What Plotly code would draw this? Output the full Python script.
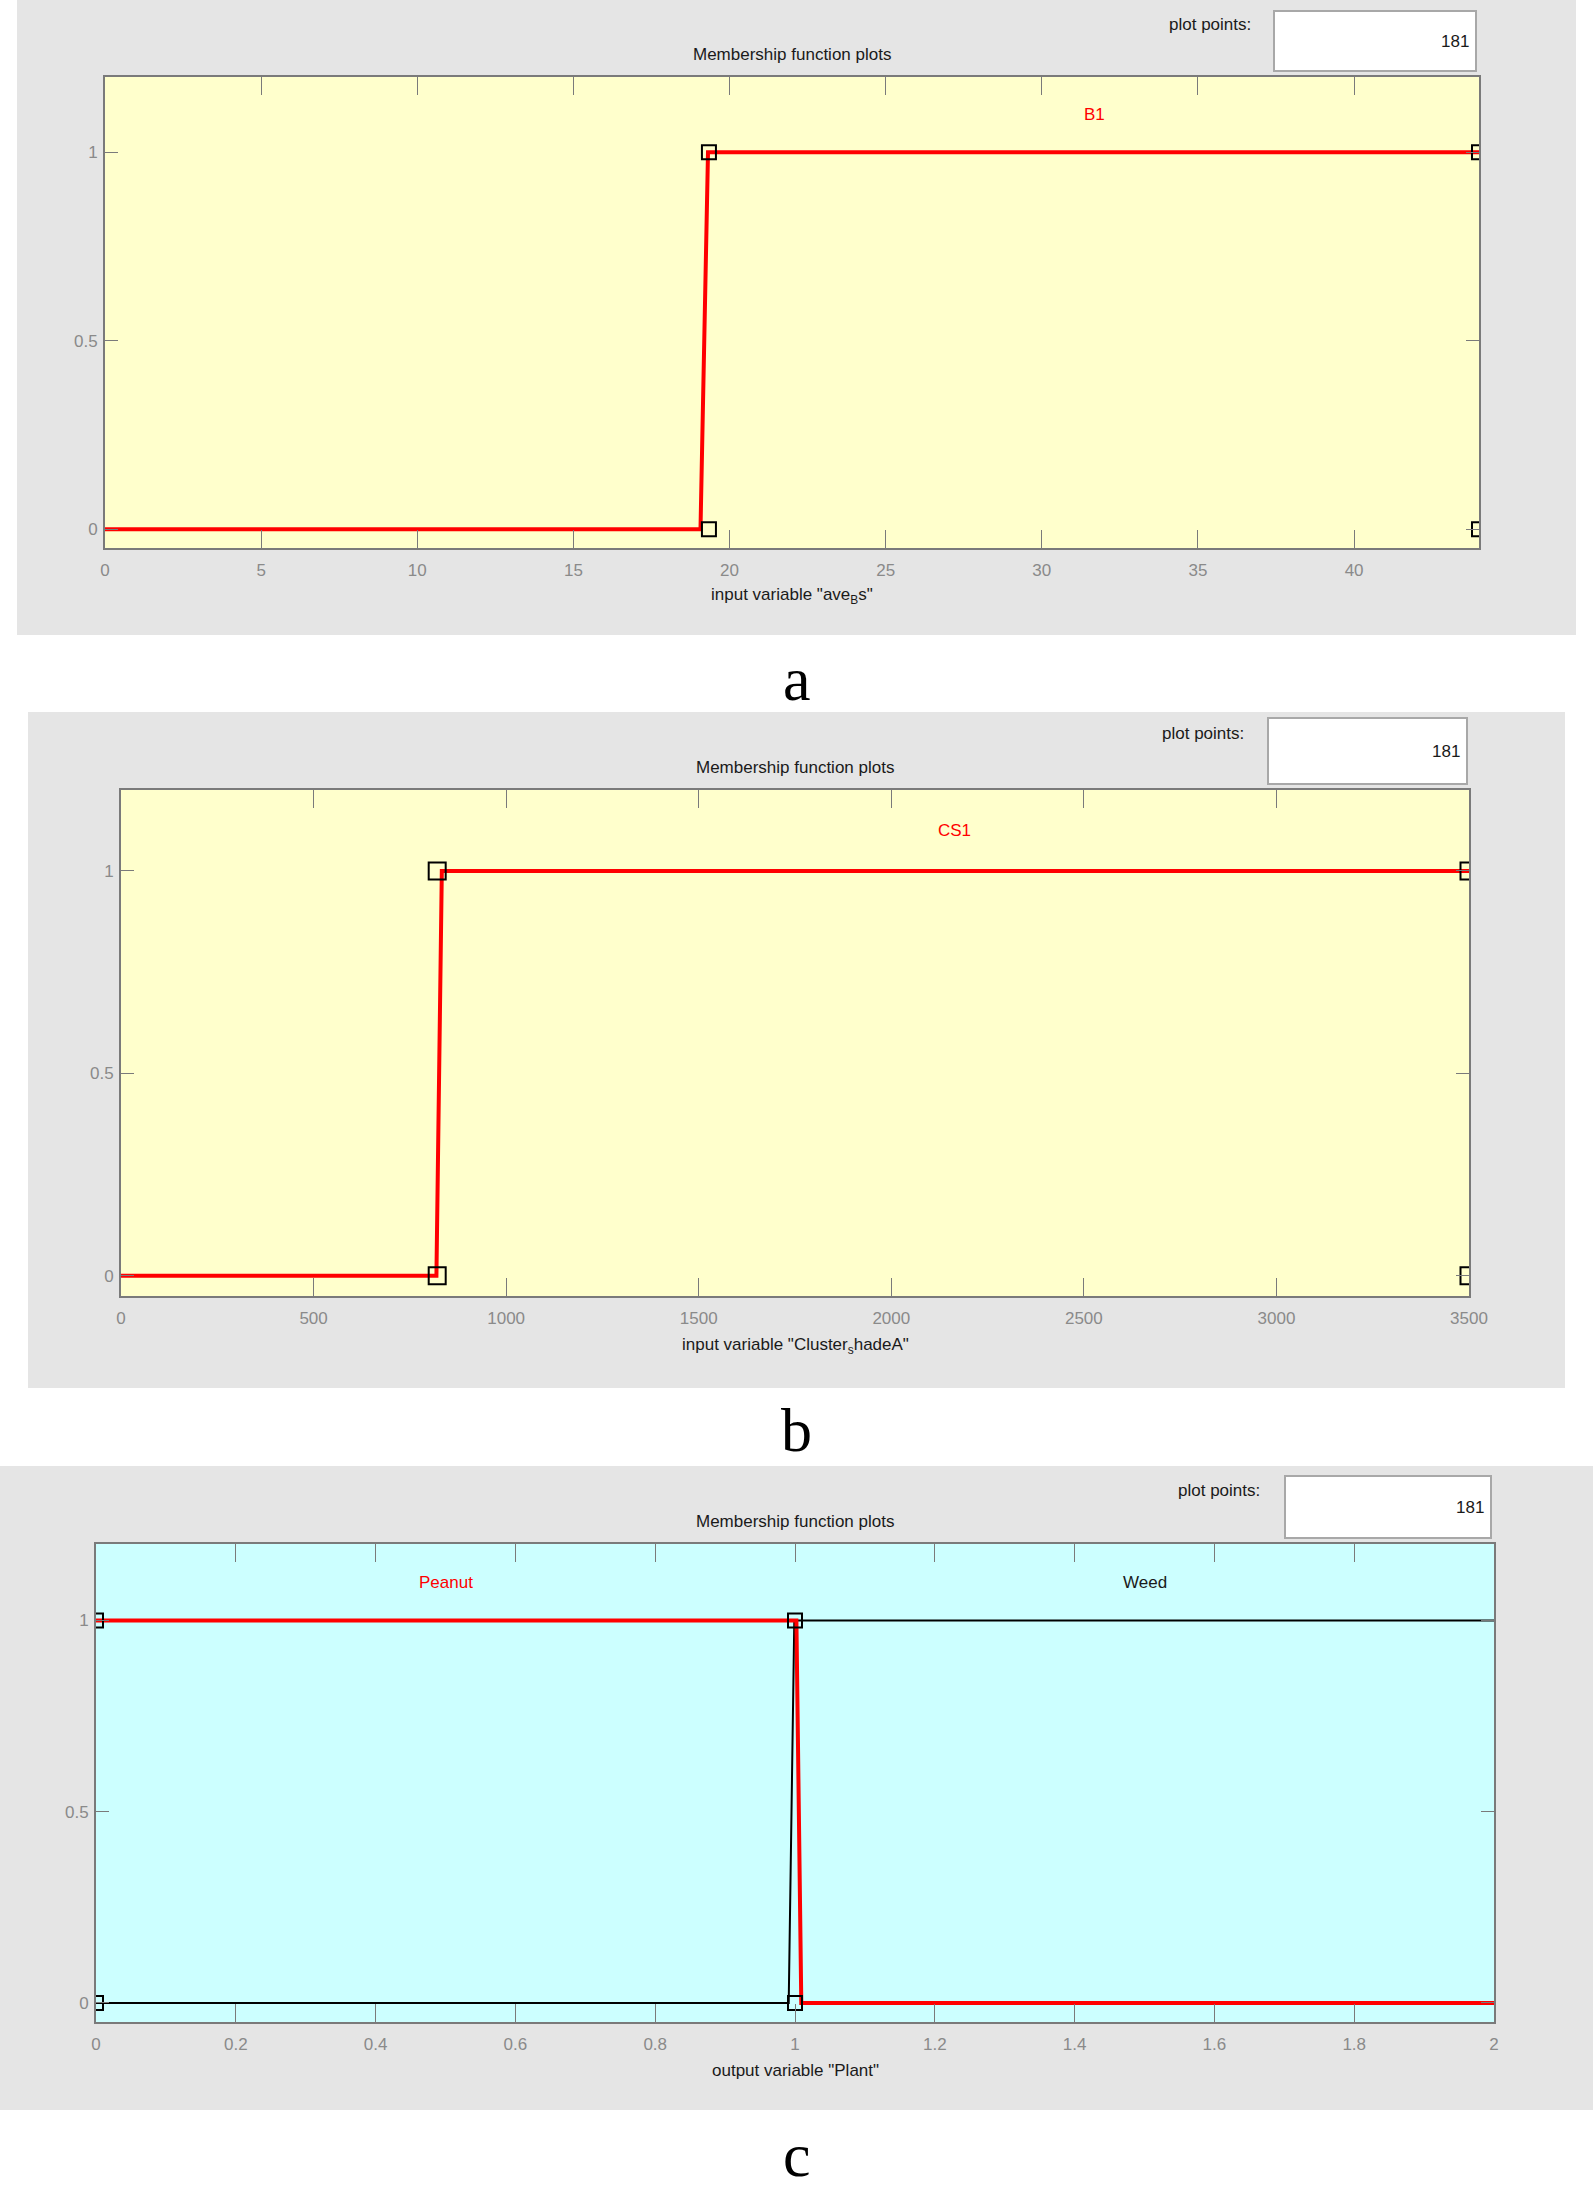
import plotly.graph_objects as go

W, H = 1593, 2188

# ---------------- data ----------------
# panel a : input variable "ave_B s", MF B1
a_line_x = [0, 19.07, 19.31, 44]
a_line_y = [0, 0, 1, 1]
a_sq_x = [19.34, 19.34, 44, 44]
a_sq_y = [0, 1, 1, 0]
a_xticks = [0, 5, 10, 15, 20, 25, 30, 35, 40]
a_xrange = [0, 44]
a_mf_label = "B1"
a_mf_label_x = 31.7

# panel b : input variable "Cluster_s hadeA", MF CS1
b_line_x = [0, 819, 833, 3500]
b_line_y = [0, 0, 1, 1]
b_sq_x = [821, 821, 3500, 3500]
b_sq_y = [0, 1, 1, 0]
b_xticks = [0, 500, 1000, 1500, 2000, 2500, 3000, 3500]
b_xrange = [0, 3500]
b_mf_label = "CS1"
b_mf_label_x = 2165

# panel c : output variable "Plant", MFs Peanut (selected) and Weed
c_peanut_x = [0, 1.002, 1.009, 2]
c_peanut_y = [1, 1, 0, 0]
c_weed_x = [0, 0.991, 0.999, 2]
c_weed_y = [0, 0, 1, 1]
c_sq_x = [0, 0, 1, 1]
c_sq_y = [0, 1, 1, 0]
c_xticks = [0, 0.2, 0.4, 0.6, 0.8, 1, 1.2, 1.4, 1.6, 1.8, 2]
c_xticklabels = ["0", "0.2", "0.4", "0.6", "0.8", "1", "1.2", "1.4", "1.6", "1.8", "2"]
c_xrange = [0, 2]

y_ticks = [0, 0.5, 1]
y_ticklabels = ["0", "0.5", "1"]
y_range = [-0.05, 1.2]
plot_points = "181"

# ---------------- styling ----------------
FONT = "Liberation Sans Narrow, Arial Narrow, Liberation Sans, Arial, sans-serif"
SERIF = "Liberation Serif, Times New Roman, serif"
GRAY_BG = "#E5E5E5"
AXIS_GRAY = "#7A7A7A"
TICKTXT = "#8A8A8A"
RED = "#FF0000"
YELLOW = "#FFFFCC"
CYAN = "#CCFFFF"


def px(x):
    return x / W


def py(y):
    return 1 - y / H


panels = [
    dict(plot=(105, 77, 1479, 548), gray=(17, 0, 1576, 635), title_y=54,
         pp_box=(1274, 11, 1476, 71), pp_lbl=(1253, 24), xlabel_y=596, cap_y=679,
         xlabel='input variable "ave<sub>B</sub>s"', cap="a", bg=YELLOW),
    dict(plot=(121, 790, 1469, 1296), gray=(28, 712, 1565, 1388), title_y=767,
         pp_box=(1268, 718, 1467, 784), pp_lbl=(1246, 733), xlabel_y=1346, cap_y=1430,
         xlabel='input variable "Cluster<sub>s</sub>hadeA"', cap="b", bg=YELLOW),
    dict(plot=(96, 1544, 1494, 2022), gray=(0, 1466, 1593, 2110), title_y=1521,
         pp_box=(1285, 1476, 1491, 1538), pp_lbl=(1262, 1490), xlabel_y=2070, cap_y=2155,
         xlabel='output variable "Plant"', cap="c", bg=CYAN),
]

fig = go.Figure()


def sq_marker(size):
    return dict(symbol="square-open", size=size, color="black", line=dict(width=2, color="black"))


fig.add_trace(go.Scatter(x=a_line_x, y=a_line_y, mode="lines", line=dict(color=RED, width=4),
                         xaxis="x", yaxis="y", showlegend=False))
fig.add_trace(go.Scatter(x=a_sq_x, y=a_sq_y, mode="markers", marker=sq_marker(14),
                         xaxis="x", yaxis="y", showlegend=False))
fig.add_trace(go.Scatter(x=b_line_x, y=b_line_y, mode="lines", line=dict(color=RED, width=4),
                         xaxis="x2", yaxis="y2", showlegend=False))
fig.add_trace(go.Scatter(x=b_sq_x, y=b_sq_y, mode="markers", marker=sq_marker(17),
                         xaxis="x2", yaxis="y2", showlegend=False))
fig.add_trace(go.Scatter(x=c_weed_x, y=c_weed_y, mode="lines", line=dict(color="black", width=2),
                         xaxis="x3", yaxis="y3", showlegend=False))
fig.add_trace(go.Scatter(x=c_peanut_x, y=c_peanut_y, mode="lines", line=dict(color=RED, width=4),
                         xaxis="x3", yaxis="y3", showlegend=False))
fig.add_trace(go.Scatter(x=c_sq_x, y=c_sq_y, mode="markers", marker=sq_marker(14),
                         xaxis="x3", yaxis="y3", showlegend=False))

shapes = []
annotations = []
axis_common = dict(showline=True, linecolor=AXIS_GRAY, linewidth=2, mirror="allticks",
                   ticks="inside", tickcolor=AXIS_GRAY, tickwidth=1, automargin=False,
                   showgrid=False, zeroline=False, fixedrange=True,
                   tickfont=dict(family=FONT, size=17, color=TICKTXT))

layout_axes = {}
xinfo = [(a_xrange, a_xticks, [str(t) for t in a_xticks]),
         (b_xrange, b_xticks, [str(t) for t in b_xticks]),
         (c_xrange, c_xticks, c_xticklabels)]

TXT = dict(family=FONT, size=17, color="#1a1a1a")

for i, p in enumerate(panels):
    n = "" if i == 0 else str(i + 1)
    x0, y0, x1, y1 = p["plot"]
    xr, xt, xtl = xinfo[i]
    layout_axes["xaxis" + n] = dict(axis_common, domain=[px(x0), px(x1)], range=xr,
                                    tickvals=xt, ticktext=xtl, ticklen=18,
                                    anchor="y" + n, ticklabelstandoff=6)
    layout_axes["yaxis" + n] = dict(axis_common, domain=[py(y1), py(y0)], range=y_range,
                                    tickvals=y_ticks, ticktext=y_ticklabels, ticklen=13,
                                    anchor="x" + n, ticklabelstandoff=2)
    gx0, gy0, gx1, gy1 = p["gray"]
    shapes.append(dict(type="rect", xref="paper", yref="paper", layer="below",
                       x0=px(gx0), x1=px(gx1), y0=py(gy1), y1=py(gy0),
                       fillcolor=GRAY_BG, line=dict(width=0)))
    shapes.append(dict(type="rect", xref="x%s domain" % n, yref="y%s domain" % n, layer="below",
                       x0=0, x1=1, y0=0, y1=1, fillcolor=p["bg"], line=dict(width=0)))
    bx0, by0, bx1, by1 = p["pp_box"]
    shapes.append(dict(type="rect", xref="paper", yref="paper", layer="below",
                       x0=px(bx0), x1=px(bx1), y0=py(by1), y1=py(by0),
                       fillcolor="white", line=dict(color="#A8A8A8", width=2)))
    annotations.append(dict(xref="paper", yref="paper", x=px(bx1 - 5), y=py((by0 + by1) / 2),
                            xanchor="right", yanchor="middle", showarrow=False, text=plot_points,
                            font=TXT))
    annotations.append(dict(xref="paper", yref="paper", x=px(p["pp_lbl"][0]), y=py(p["pp_lbl"][1]),
                            xanchor="right", yanchor="middle", showarrow=False, text="plot points:",
                            font=TXT))
    annotations.append(dict(xref="paper", yref="paper", x=px((x0 + x1) / 2), y=py(p["title_y"]),
                            xanchor="center", yanchor="middle", showarrow=False,
                            text="Membership function plots", font=TXT))
    annotations.append(dict(xref="paper", yref="paper", x=px((x0 + x1) / 2), y=py(p["xlabel_y"]),
                            xanchor="center", yanchor="middle", showarrow=False,
                            text=p["xlabel"], font=TXT))
    annotations.append(dict(xref="paper", yref="paper", x=0.5, y=py(p["cap_y"]),
                            xanchor="center", yanchor="middle", showarrow=False,
                            text=p["cap"],
                            font=dict(family=SERIF, size=62, color="black")))

annotations.append(dict(xref="x", yref="y", x=a_mf_label_x, y=1.1, text=a_mf_label, showarrow=False,
                        font=dict(family=FONT, size=17, color=RED)))
annotations.append(dict(xref="x2", yref="y2", x=b_mf_label_x, y=1.1, text=b_mf_label, showarrow=False,
                        font=dict(family=FONT, size=17, color=RED)))
annotations.append(dict(xref="x3", yref="y3", x=0.5, y=1.1, text="Peanut", showarrow=False,
                        font=dict(family=FONT, size=17, color=RED)))
annotations.append(dict(xref="x3", yref="y3", x=1.5, y=1.1, text="Weed", showarrow=False,
                        font=TXT))

fig.update_layout(width=W, height=H,
                  margin=dict(l=0, r=0, t=0, b=0, pad=0, autoexpand=False),
                  paper_bgcolor="white", plot_bgcolor="rgba(0,0,0,0)",
                  shapes=shapes, annotations=annotations, showlegend=False, **layout_axes)

fig.write_html("out.html", config={"displayModeBar": False},
               post_script=("document.documentElement.style.margin='0px';"
                            "document.documentElement.style.overflow='hidden';"
                            "document.body.style.margin='0px';"
                            "document.body.style.overflow='hidden';"))
